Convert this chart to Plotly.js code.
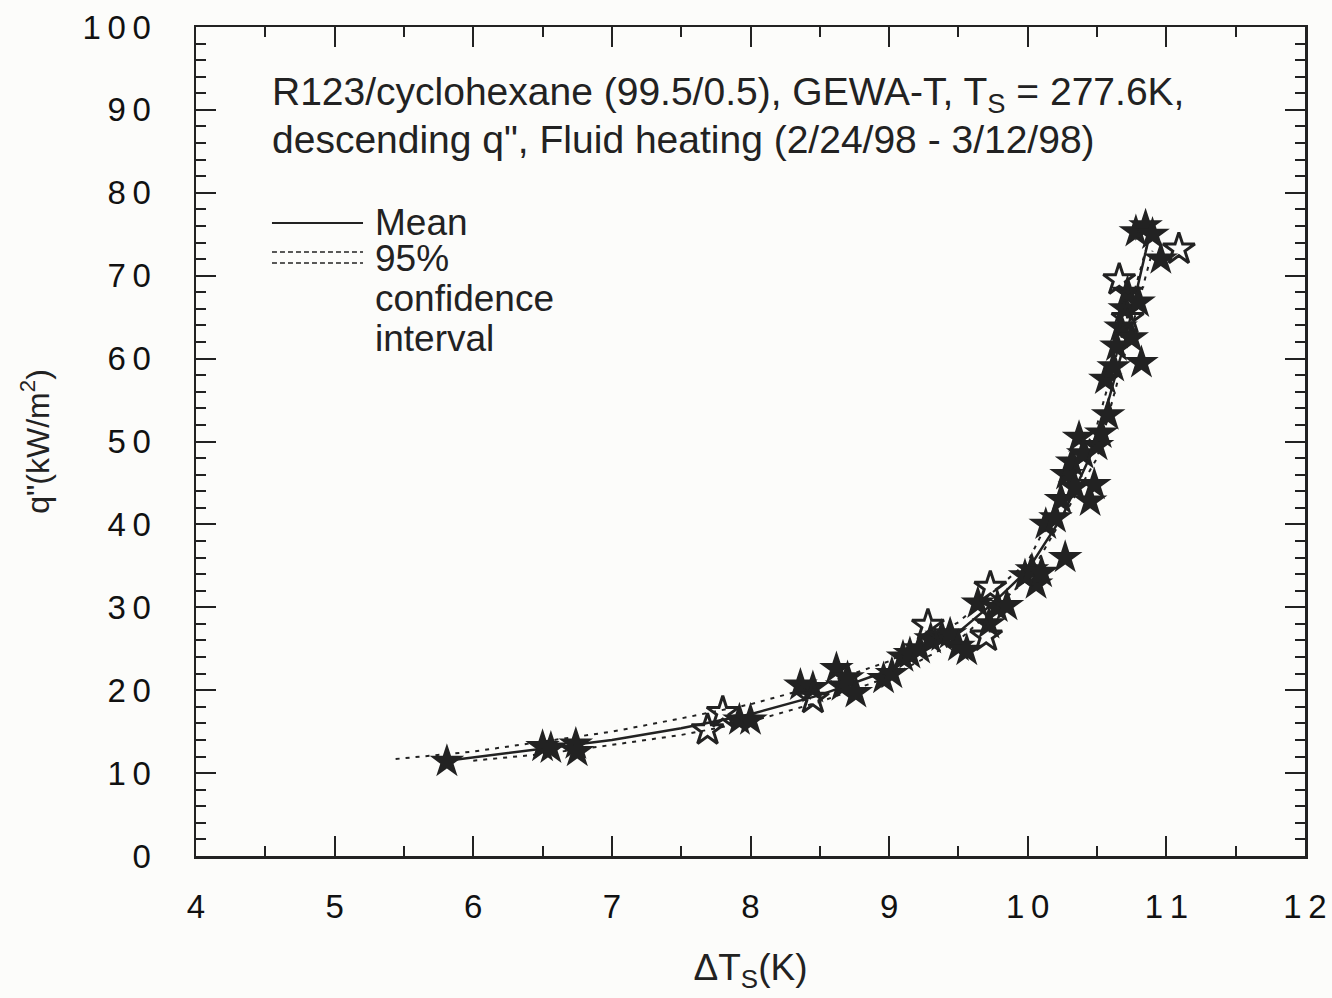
<!DOCTYPE html>
<html>
<head>
<meta charset="utf-8">
<script src="https://cdn.plot.ly/plotly-3.0.1.min.js"></script>
<style>html,body{margin:0;padding:0;background:#fcfcfa;}#chart{width:1332px;height:998px;}</style>
</head>
<body>
<div id="chart"></div>
<script>
// Filled star data points (ΔTs in K, q" in kW/m2)
const filledX = [5.81, 6.50, 6.56, 6.74, 6.75, 7.92, 8.00, 8.36, 8.45, 8.62, 8.66, 8.70, 8.76,
  8.96, 9.02, 9.10, 9.15, 9.22, 9.30, 9.38, 9.44, 9.50, 9.56, 9.64, 9.72, 9.78, 9.85,
  9.98, 10.03, 10.06, 10.10, 10.13, 10.20, 10.27, 10.24, 10.28, 10.32, 10.34, 10.37, 10.40,
  10.45, 10.48, 10.50, 10.53, 10.58, 10.56, 10.62, 10.64, 10.67, 10.70, 10.72, 10.75, 10.80,
  10.82, 10.78, 10.85, 10.90, 10.96];
const filledY = [11.4, 13.2, 13.0, 13.5, 12.6, 16.4, 16.4, 20.6, 20.3, 22.6, 20.5, 21.5, 19.7,
  21.4, 22.0, 24.0, 24.4, 25.0, 26.2, 26.5, 26.8, 25.3, 24.8, 30.5, 28.0, 30.0, 30.2,
  33.8, 34.5, 32.8, 34.2, 40.0, 40.8, 36.0, 43.0, 46.0, 47.5, 44.5, 50.5, 48.5,
  42.8, 44.8, 49.5, 51.0, 53.2, 57.5, 59.0, 61.5, 63.8, 66.0, 68.0, 62.5, 66.8,
  59.5, 75.3, 76.0, 75.0, 72.0];
// Open star data points
const openX = [7.69, 7.80, 8.45, 9.28, 9.73, 9.70, 10.72, 10.66, 11.09];
const openY = [15.2, 17.3, 19.0, 27.8, 32.4, 26.5, 64.8, 69.5, 73.2];
// Mean curve
const meanX = [5.81, 6.5, 7.0, 7.5, 8.0, 8.5, 9.0, 9.5, 9.75, 10.0, 10.25, 10.5, 10.7, 10.88];
const meanY = [11.5, 12.9, 14.0, 15.4, 17.1, 19.4, 22.4, 27.0, 30.5, 34.5, 41.0, 50.0, 62.0, 75.0];
// 95% confidence interval
const upperX = [5.44, 6.0, 6.5, 7.0, 7.5, 8.0, 8.5, 9.0, 9.5, 10.0, 10.5, 10.9];
const upperY = [11.7, 12.6, 13.8, 15.0, 16.6, 18.3, 20.6, 23.5, 28.2, 35.5, 52.0, 76.0];
const lowerX = [6.0, 6.5, 7.0, 7.5, 8.0, 8.5, 9.0, 9.5, 10.0, 10.5, 10.9];
const lowerY = [11.5, 12.3, 13.4, 14.6, 16.2, 18.6, 21.6, 26.0, 33.5, 48.0, 73.0];
// Ticks
const xTicks = [4, 5, 6, 7, 8, 9, 10, 11, 12];
const xTickText = ['4', '5', '6', '7', '8', '9', '1\u20090', '1\u20091', '1\u20092'];
const yTicks = [0, 10, 20, 30, 40, 50, 60, 70, 80, 90, 100];
const yTickText = ['0', '1\u20090', '2\u20090', '3\u20090', '4\u20090', '5\u20090', '6\u20090', '7\u20090', '8\u20090', '9\u20090', '1\u20090\u20090'];

const ink = '#222222';
const FONT = 'Liberation Sans, Arial, sans-serif';

const traces = [
  {x: upperX, y: upperY, mode: 'lines', line: {color: ink, width: 2, dash: '4px,6px'}, hoverinfo: 'skip'},
  {x: lowerX, y: lowerY, mode: 'lines', line: {color: ink, width: 2, dash: '4px,6px'}, hoverinfo: 'skip'},
  {x: meanX, y: meanY, mode: 'lines', line: {color: ink, width: 2.5}},
  {x: filledX, y: filledY, mode: 'markers', marker: {symbol: 'star', size: 26, color: ink, line: {width: 0}}},
  {x: openX, y: openY, mode: 'markers', marker: {symbol: 'star-open', size: 24, color: ink, line: {width: 3, color: ink}}}
];

const axisCommon = {
  showgrid: false, zeroline: false, showline: true, linecolor: ink, linewidth: 2.5,
  mirror: 'allticks', ticks: 'inside', tickcolor: ink, tickwidth: 2, ticklen: 20,
  tickfont: {family: FONT, size: 33, color: '#111'}
};

const layout = {
  width: 1332, height: 998,
  paper_bgcolor: '#fcfcfa', plot_bgcolor: '#fcfcfa',
  margin: {l: 196, r: 27, t: 27, b: 142},
  showlegend: false,
  xaxis: Object.assign({}, axisCommon, {
    range: [4, 12], tickvals: xTicks, ticktext: xTickText, ticklabelstandoff: 20,
    minor: {dtick: 0.5, ticks: 'inside', ticklen: 10, tickwidth: 2, tickcolor: ink},
    title: {text: 'ΔT<sub>S</sub>(K)', font: {family: FONT, size: 37, color: ink}, standoff: 30}
  }),
  yaxis: Object.assign({}, axisCommon, {
    range: [0, 100], tickvals: yTicks, ticktext: yTickText, ticklabelstandoff: 36,
    minor: {dtick: 2, ticks: 'inside', ticklen: 10, tickwidth: 2, tickcolor: ink},
    title: {text: 'q"(kW/m<sup>2</sup>)', font: {family: FONT, size: 32, color: ink}, standoff: 24}
  }),
  shapes: [
    {type: 'line', xref: 'paper', yref: 'paper', x0: 0.0685, x1: 0.1506, y0: 0.7636, y1: 0.7636, line: {color: ink, width: 2}},
    {type: 'line', xref: 'paper', yref: 'paper', x0: 0.0685, x1: 0.1506, y0: 0.7286, y1: 0.7286, line: {color: ink, width: 1.5, dash: '5px,3px'}},
    {type: 'line', xref: 'paper', yref: 'paper', x0: 0.0685, x1: 0.1506, y0: 0.7153, y1: 0.7153, line: {color: ink, width: 1.5, dash: '5px,3px'}}
  ],
  annotations: [
    {xref: 'paper', yref: 'paper', x: 0.0667, y: 0.918, xanchor: 'left', yanchor: 'middle', showarrow: false,
     text: 'R123/cyclohexane (99.5/0.5), GEWA-T, T<sub>S</sub> = 277.6K,', font: {family: FONT, size: 39, color: ink}},
    {xref: 'paper', yref: 'paper', x: 0.0667, y: 0.8637, xanchor: 'left', yanchor: 'middle', showarrow: false,
     text: 'descending q", Fluid heating (2/24/98 - 3/12/98)', font: {family: FONT, size: 39, color: ink}},
    {xref: 'paper', yref: 'paper', x: 0.1596, y: 0.7636, xanchor: 'left', yanchor: 'middle', showarrow: false,
     text: 'Mean', font: {family: FONT, size: 37, color: ink}},
    {xref: 'paper', yref: 'paper', x: 0.1596, y: 0.7213, xanchor: 'left', yanchor: 'middle', showarrow: false,
     text: '95%', font: {family: FONT, size: 37, color: ink}},
    {xref: 'paper', yref: 'paper', x: 0.1596, y: 0.673, xanchor: 'left', yanchor: 'middle', showarrow: false,
     text: 'confidence', font: {family: FONT, size: 37, color: ink}},
    {xref: 'paper', yref: 'paper', x: 0.1596, y: 0.6248, xanchor: 'left', yanchor: 'middle', showarrow: false,
     text: 'interval', font: {family: FONT, size: 37, color: ink}}
  ]
};

Plotly.newPlot('chart', traces, layout, {displayModeBar: false, staticPlot: true});
</script>
</body>
</html>
